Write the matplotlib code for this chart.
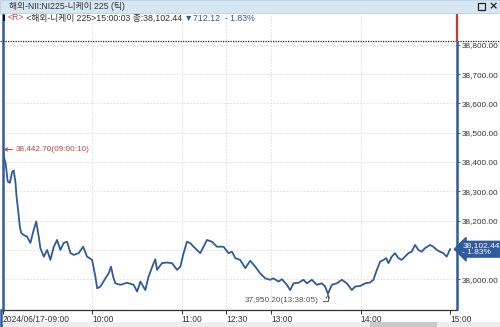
import matplotlib
matplotlib.use('Agg')
import matplotlib.pyplot as plt
from matplotlib import font_manager
from matplotlib.patches import Rectangle
from matplotlib.lines import Line2D
import matplotlib.transforms as mtransforms

# ---------------- data ----------------
TIMES = ["09:00:10", "09:00:30", "09:01:42", "09:03:12", "09:04:36", "09:06:12", "09:07:12", "09:08:24", "09:09:06", "09:10:36",
         "09:11:18", "09:12:12", "09:13:54", "09:16:12", "09:18:24", "09:20:36", "09:22:18", "09:24:00", "09:25:06", "09:27:24",
         "09:29:36", "09:31:48", "09:34:06", "09:36:18", "09:38:30", "09:40:48", "09:43:00", "09:45:18", "09:47:30", "09:50:48",
         "09:53:48", "09:56:24", "09:59:48", "10:02:00", "10:03:12", "10:05:24", "10:08:42", "10:10:54", "10:12:30", "10:13:54",
         "10:15:24", "10:18:48", "10:23:18", "10:27:42", "10:30:00", "10:32:12", "10:35:30", "10:37:42", "10:41:06", "10:42:12",
         "10:43:24", "10:46:42", "10:50:06", "10:53:24", "10:56:48", "10:59:00", "11:01:12", "11:03:30", "11:05:42", "11:07:54",
         "11:12:24", "11:14:36", "11:16:54", "11:20:12", "11:23:36", "11:28:00", "12:31:24", "12:33:42", "12:35:54", "12:39:12",
         "12:42:36", "12:45:54", "12:49:18", "12:52:36", "12:56:00", "12:59:18", "13:01:30", "13:04:54", "13:07:12", "13:10:30",
         "13:12:42", "13:15:00", "13:18:18", "13:21:42", "13:23:54", "13:27:18", "13:30:36", "13:34:00", "13:36:12", "13:38:05",
         "13:40:42", "13:44:00", "13:47:24", "13:50:48", "13:54:06", "13:56:18", "13:59:42", "14:03:06", "14:06:24", "14:08:36",
         "14:10:54", "14:13:06", "14:15:24", "14:17:12", "14:18:42", "14:20:54", "14:23:06", "14:25:24", "14:27:36", "14:29:48",
         "14:32:06", "14:34:18", "14:36:30", "14:38:48", "14:41:00", "14:43:12", "14:46:36", "14:48:48", "14:51:06", "14:53:18",
         "14:55:30", "14:57:48", "15:00:03"]
PRICES = [38442.70, 38418, 38397, 38333, 38329, 38367, 38371, 38329, 38282, 38214,
          38180, 38158, 38151, 38145, 38124, 38168, 38197, 38145, 38106, 38077,
          38100, 38066, 38111, 38134, 38100, 38124, 38128, 38089, 38083, 38089,
          38111, 38077, 38066, 38009, 37969, 37975, 38003, 38020, 38043, 38009,
          37986, 37981, 37988, 37981, 37958, 37992, 37963, 38009, 38055, 38068,
          38032, 38055, 38057, 38055, 38032, 38043, 38089, 38128, 38123, 38111,
          38089, 38111, 38134, 38128, 38111, 38111, 38089, 38094, 38072, 38066,
          38038, 38063, 38043, 38020, 38003, 37998, 38003, 37992, 38000, 37981,
          37963, 37986, 37988, 37998, 37986, 37998, 37981, 37986, 37975, 37950.20,
          37981, 37986, 37998, 37986, 37963, 37975, 37977, 37986, 37989, 37998,
          38032, 38060, 38066, 38072, 38055, 38077, 38089, 38072, 38066, 38077,
          38089, 38094, 38117, 38100, 38094, 38106, 38117, 38111, 38100, 38094,
          38089, 38077, 38102.44]
PREV_CLOSE = 38814.56
HIGH, HIGH_TIME = 38442.70, "09:00:10"
LOW, LOW_TIME = 37950.20, "13:38:05"
LAST, LAST_TIME = 38102.44, "15:00:03"
CHANGE, CHANGE_PCT = -712.12, -1.83
XTICK_TIMES = ["09:00", "10:00", "11:00", "12:30", "13:00", "14:00", "15:00"]
XTICK_LABELS = ["2024/06/17-09:00", "10:00", "11:00", "12:30", "13:00", "14:00", "15:00"]
YTICKS = [38000, 38100, 38200, 38300, 38400, 38500, 38600, 38700, 38800]
TITLE = "해외-NII:NI225-니케이 225 (틱)"
INFO_NAME = "<해외-니케이 225>"


def sess(t):
    parts = [int(p) for p in t.split(":")]
    while len(parts) < 3:
        parts.append(0)
    m = (parts[0] - 9) * 60 + parts[1] + parts[2] / 60.0
    if m > 150:  # lunch break 11:30-12:30 removed
        m -= 60
    return m


# ---------------- fonts ----------------
names = {f.name for f in font_manager.fontManager.ttflist}
NARROW = 'Liberation Sans Narrow' in names
base = 'Liberation Sans Narrow' if NARROW else 'Liberation Sans'
FAM = [base, 'Noto Sans CJK KR', 'DejaVu Sans']
plt.rcParams['font.family'] = FAM
SCALE = 1.0 if NARROW else 0.84

BLUE = '#2f5a9c'
RED = '#c0453c'
TXT = '#333333'

W, H = 500, 327
fig = plt.figure(figsize=(W / 100, H / 100), dpi=100)
fig.patch.set_facecolor('white')


def fx(px):
    return px / W


def fy(py):
    return 1 - py / H


ax_left, ax_right, ax_top, ax_bot = 3, 457, 14, 310
ax = fig.add_axes([fx(ax_left), fy(ax_bot), (ax_right - ax_left) / W, (ax_bot - ax_top) / H])
ax.set_facecolor('white')

XMAX = 304.7
YMIN, YMAX = 37895, 38905
ax.set_xlim(0, XMAX)
ax.set_ylim(YMIN, YMAX)

# grid
for v in YTICKS:
    ax.axhline(v, color='#d9d9d9', lw=0.6, ls=(0, (2, 2)), zorder=0)
for t in XTICK_TIMES[1:-1]:
    ax.axvline(sess(t), color='#d9d9d9', lw=0.6, ls=(0, (2, 2)), zorder=0)

# previous close dotted line
ax.axhline(PREV_CLOSE, xmin=-ax_left / (ax_right - ax_left), xmax=(W - ax_left) / (ax_right - ax_left),
           color='#222222', lw=0.9, ls=(0, (1, 1)), clip_on=False, zorder=3)

# price line
xs = [sess(t) for t in TIMES]
ax.plot(xs, PRICES, color=BLUE, lw=1.3, zorder=4, solid_joinstyle='round')

# spines
for s in ['top', 'right']:
    ax.spines[s].set_visible(False)
ax.spines['left'].set_color(BLUE)
ax.spines['left'].set_linewidth(1.8)
ax.spines['bottom'].set_color('#333333')
ax.spines['bottom'].set_linewidth(0.9)

# right axis marker line: red above prev close, blue below
ax.vlines(XMAX, PREV_CLOSE, YMAX, color='#d0342c', lw=1.6, clip_on=False, zorder=5)
ax.vlines(XMAX, YMIN, PREV_CLOSE, color=BLUE, lw=1.8, clip_on=False, zorder=5)

# ticks (the label next to the last price is covered by the price box)
ax.yaxis.tick_right()
ax.set_yticks(YTICKS)
ax.set_yticklabels(["" if abs(v - LAST) < 40 else f"{v:,.2f}" for v in YTICKS])
ax.tick_params(axis='y', direction='out', length=2.5, width=0.7, color='#555555', pad=1,
               labelsize=7 * SCALE, labelcolor=TXT)
ax.set_xticks([sess(t) for t in XTICK_TIMES])
ax.set_xticklabels(XTICK_LABELS)
ax.tick_params(axis='x', direction='out', length=3, width=0.7, color='#333333', pad=0.5,
               labelsize=7.3 * SCALE, labelcolor=TXT)
for lab in ax.get_xticklabels():
    lab.set_ha('left')

# high annotation
ax.annotate(f"{HIGH:,.2f}({HIGH_TIME})", xy=(sess(HIGH_TIME), HIGH), xytext=(12, 0),
            textcoords='offset pixels', ha='left', va='center', fontsize=7 * SCALE, color=RED,
            arrowprops=dict(arrowstyle='->', color=RED, lw=0.7, shrinkA=0, shrinkB=0,
                            mutation_scale=6), zorder=6)
# low annotation
ax.annotate(f"{LOW:,.2f}({LOW_TIME})", xy=(sess(LOW_TIME), LOW), xytext=(-9, -7),
            textcoords='offset pixels', ha='right', va='center', fontsize=7 * SCALE, color='#555555',
            arrowprops=dict(arrowstyle='->', color='#555555', lw=0.7, shrinkA=1, shrinkB=0,
                            mutation_scale=6,
                            connectionstyle='angle,angleA=0,angleB=90,rad=0'), zorder=6)

# last price box on right axis
trans = mtransforms.blended_transform_factory(ax.transAxes, ax.transData)
ax.text(1.012, LAST, f"{LAST:,.2f}\n{CHANGE_PCT:.2f}%".replace('-', '- '), transform=trans,
        ha='left', va='center', fontsize=6.0, color='white', linespacing=0.95,
        bbox=dict(boxstyle='larrow,pad=0.12', fc=BLUE, ec=BLUE), clip_on=False, zorder=7)

# ---------------- window chrome ----------------
fig.patches.append(Rectangle((0, fy(13)), 1, 13 / H, transform=fig.transFigure,
                             fc='#d6e6f2', ec='#b8cfe0', lw=0.6, zorder=0))
fig.text(fx(9), fy(6.5), TITLE, fontsize=7.5 * SCALE, color=TXT, ha='left', va='center')
fig.patches.append(Rectangle((fx(478), fy(10)), 7 / W, 7 / H, transform=fig.transFigure,
                             fc='none', ec='#222222', lw=0.9))
fig.text(fx(493), fy(6.5), "×", fontsize=8, color='#222222', ha='center', va='center',
         fontweight='bold', family='DejaVu Sans')

# info line
fig.patches.append(Rectangle((fx(3), fy(21)), 2 / W, 6 / H, transform=fig.transFigure,
                             fc='#111111', ec='none'))
fig.canvas.draw()
renderer = fig.canvas.get_renderer()
segments = [("<R>", RED), (" " + INFO_NAME + "15:00:03 종:" + f"{LAST:,.2f}", TXT),
            (f" ▼{abs(CHANGE):,.2f}  {CHANGE_PCT:.2f}%".replace('-', '- '), BLUE)]
xpos = 8
for s, c in segments:
    t = fig.text(fx(xpos), fy(18), s, fontsize=7.5 * SCALE, color=c, ha='left', va='center',
                 family=FAM)
    bb = t.get_window_extent(renderer)
    xpos = bb.x1

# bottom scrollbar strip
fig.patches.append(Rectangle((0, 0), 1, 5 / H, transform=fig.transFigure,
                             fc='#eeeeee', ec='none', zorder=0))
fig.patches.append(Rectangle((fx(370), 0), 67 / W, 5 / H, transform=fig.transFigure,
                             fc='#c9c9c9', ec='none', zorder=0))
# left blue border continuing to bottom
fig.lines.append(Line2D([fx(1.2), fx(1.2)], [0, fy(ax_bot)], transform=fig.transFigure,
                        color=BLUE, lw=1.8))

fig.savefig('out.png', dpi=100)
